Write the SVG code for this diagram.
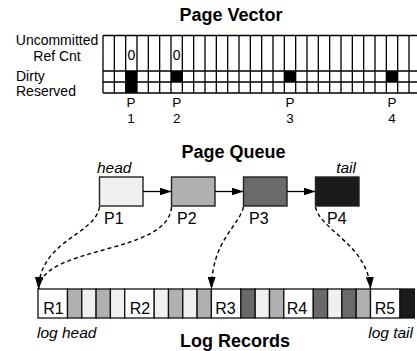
<svg xmlns="http://www.w3.org/2000/svg" width="417" height="351" viewBox="0 0 417 351">
<style>
text{font-family:"Liberation Sans",Arial,sans-serif;fill:#000}
.title{font-weight:bold;font-size:18px;text-anchor:middle}
.lbl{font-size:14px}
.sm{font-size:13.5px;text-anchor:middle}
.zero{font-size:14px;text-anchor:middle}
.big{font-size:16px}
.it{font-size:15.5px;font-style:italic}
.grid{stroke:#000;stroke-width:1.3;fill:none}
.qbox{stroke:#222;stroke-width:1.4}
.cell{stroke:#111;stroke-width:1.3}
.dash{fill:none;stroke:#000;stroke-width:1.4;stroke-dasharray:4 3}
.solid{fill:none;stroke:#000;stroke-width:1.3}
.w{fill:#fff}.l{fill:#f0f0f0}.g{fill:#b0b0b0}.d{fill:#6a6a6a}.b{fill:#1b1b1b}
</style>
<defs>
<marker id="ah" markerWidth="12" markerHeight="8" refX="12" refY="4" orient="auto" markerUnits="userSpaceOnUse">
<path d="M0,0 L12,4 L0,8 Z" fill="#000"/>
</marker>
</defs>

<g id="page-vector">
<text class="title" x="231" y="21">Page Vector</text>
<text class="lbl" x="57" y="45" text-anchor="middle">Uncommitted</text>
<text class="lbl" x="57" y="60.5" text-anchor="middle">Ref Cnt</text>
<text class="lbl" x="16" y="81">Dirty</text>
<text class="lbl" x="16" y="96">Reserved</text>
<rect x="125.67" y="71" width="11.33" height="22" fill="#000"/>
<rect x="171" y="71" width="11.33" height="11" fill="#000"/>
<rect x="284.33" y="71" width="11.33" height="11" fill="#000"/>
<rect x="386.33" y="71" width="11.33" height="11" fill="#000"/>
<path class="grid" d="M103,35.5H417M103,71H417M103,82H417M103,93H417
M103,35.5V93M114.33,35.5V93M125.67,35.5V93M137,35.5V93M148.33,35.5V93M159.67,35.5V93M171,35.5V93M182.33,35.5V93M193.67,35.5V93M205,35.5V93M216.33,35.5V93M227.67,35.5V93M239,35.5V93M250.33,35.5V93M261.67,35.5V93M273,35.5V93M284.33,35.5V93M295.67,35.5V93M307,35.5V93M318.33,35.5V93M329.67,35.5V93M341,35.5V93M352.33,35.5V93M363.67,35.5V93M375,35.5V93M386.33,35.5V93M397.67,35.5V93M409,35.5V93"/>
<text class="zero" x="131.3" y="60">0</text>
<text class="zero" x="176.7" y="60">0</text>
<text class="sm" x="131" y="107">P</text><text class="sm" x="131" y="123">1</text>
<text class="sm" x="176.7" y="107">P</text><text class="sm" x="176.7" y="123">2</text>
<text class="sm" x="290" y="107">P</text><text class="sm" x="290" y="123">3</text>
<text class="sm" x="392" y="107">P</text><text class="sm" x="392" y="123">4</text>
</g>

<text class="title" x="233.5" y="158">Page Queue</text>
<text class="it" x="97" y="173">head</text>
<text class="it" x="356" y="173" text-anchor="end">tail</text>

<g id="P1"><rect class="qbox l" x="99.5" y="177" width="43.5" height="29"/><text class="big" x="104" y="224">P1</text></g>
<g id="P2"><rect class="qbox g" x="171.5" y="177" width="43.5" height="29"/><text class="big" x="177" y="224">P2</text></g>
<g id="P3"><rect class="qbox d" x="243.5" y="177" width="43.5" height="29"/><text class="big" x="249" y="224">P3</text></g>
<g id="P4"><rect class="qbox b" x="315.5" y="177" width="43.5" height="29"/><text class="big" x="327" y="224">P4</text></g>

<g id="log-records">
<rect class="cell w" x="38" y="289" width="29.5" height="29"/>
<rect class="cell g" x="67.5" y="289" width="14.3" height="29"/>
<rect class="cell l" x="81.8" y="289" width="14.3" height="29"/>
<rect class="cell g" x="96.1" y="289" width="14.3" height="29"/>
<rect class="cell l" x="110.4" y="289" width="14.3" height="29"/>
<rect class="cell w" x="124.7" y="289" width="29.5" height="29"/>
<rect class="cell l" x="154.2" y="289" width="14.3" height="29"/>
<rect class="cell g" x="168.5" y="289" width="14.3" height="29"/>
<rect class="cell l" x="182.8" y="289" width="14.3" height="29"/>
<rect class="cell g" x="197.1" y="289" width="14.3" height="29"/>
<rect class="cell w" x="211.4" y="289" width="29.5" height="29"/>
<rect class="cell d" x="240.9" y="289" width="14.3" height="29"/>
<rect class="cell l" x="255.2" y="289" width="14.3" height="29"/>
<rect class="cell g" x="269.5" y="289" width="14.3" height="29"/>
<rect class="cell w" x="283.8" y="289" width="29.5" height="29"/>
<rect class="cell d" x="313.3" y="289" width="14.3" height="29"/>
<rect class="cell l" x="327.6" y="289" width="14.3" height="29"/>
<rect class="cell d" x="341.9" y="289" width="14.3" height="29"/>
<rect class="cell g" x="356.2" y="289" width="14.3" height="29"/>
<rect class="cell w" x="370.5" y="289" width="29.5" height="29"/>
<rect class="cell b" x="400" y="289" width="14.3" height="29"/>
<text class="big" x="53.5" y="314" text-anchor="middle">R1</text>
<text class="big" x="140" y="314" text-anchor="middle">R2</text>
<text class="big" x="225.5" y="314" text-anchor="middle">R3</text>
<text class="big" x="297" y="314" text-anchor="middle">R4</text>
<text class="big" x="385" y="314" text-anchor="middle">R5</text>
<text class="it" x="37" y="338">log head</text>
<text class="it" x="413" y="338" text-anchor="end">log tail</text>
<text class="title" x="235" y="347">Log Records</text>
</g>

<g id="connectors">
<path class="solid" d="M143,191.5H171.5" marker-end="url(#ah)"/>
<path class="solid" d="M215,191.5H243.5" marker-end="url(#ah)"/>
<path class="solid" d="M287,191.5H315.5" marker-end="url(#ah)"/>
<path class="dash" d="M99.5,207 C95,235 40,240 38.5,289" marker-end="url(#ah)"/>
<path class="dash" d="M171.5,207 C168,255 42,245 38.5,289" marker-end="url(#ah)"/>
<path class="dash" d="M243.5,207 C238,228 212,240 211.5,289" marker-end="url(#ah)"/>
<path class="dash" d="M315.5,207 C320,230 368,245 370.5,289" marker-end="url(#ah)"/>
</g>
</svg>
